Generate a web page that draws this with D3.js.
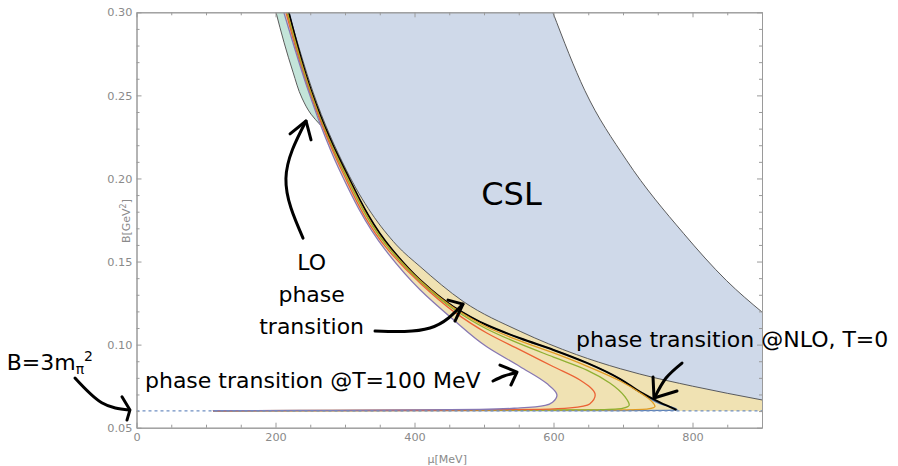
<!DOCTYPE html>
<html>
<head>
<meta charset="utf-8">
<script src="https://cdn.jsdelivr.net/npm/d3@7"></script>
<style>
  body { margin: 0; background: #fff; }
</style>
</head>
<body>
<div id="chart"></div>
<script>
// axis ticks
const muTicks = [0, 200, 400, 600, 800];
const bTicks = [0.05, 0.10, 0.15, 0.20, 0.25, 0.30];

// B = 3 m_pi^2 line
const pionB = 0.0601;

// CSL region boundaries [mu, B]
const cslLower = [[219, 0.300], [254, 0.252], [302, 0.205], [374, 0.160], [408, 0.147], [470, 0.126],
    [552, 0.108], [633, 0.0940], [696, 0.0855], [724, 0.0823], [800, 0.0750], [900, 0.0667]];
const cslUpper = [[599, 0.300], [645, 0.253], [705, 0.211], [787, 0.167], [849, 0.1385], [900, 0.1196]];

// LO phase transition (gray, upper left)
const loLine = [[200.7, 0.300], [212.2, 0.282], [225.2, 0.264], [238.1, 0.2484], [251.1, 0.2387], [265, 0.232]];

// phase transition curves at several temperatures
const tPurple = [[212, 0.300], [247, 0.253], [265, 0.232], [291, 0.206], [358, 0.157], [408, 0.133],
    [456, 0.115], [504, 0.0987], [552, 0.0867], [590, 0.0767], [605, 0.0697], [599, 0.0655],
    [588, 0.0634], [552, 0.0619], [494, 0.0610], [408, 0.0607], [235, 0.0604], [110, 0.0602]];
const tRed = [[215, 0.300], [248, 0.253], [267, 0.232], [294, 0.206], [362, 0.157], [408, 0.137],
    [456, 0.120], [504, 0.107], [552, 0.0968], [600, 0.0867], [638, 0.0787], [660, 0.0697],
    [652, 0.0643], [624, 0.0619], [581, 0.0610], [408, 0.0605], [110, 0.0602]];
const tGreen = [[216.5, 0.300], [249, 0.253], [268, 0.232], [296, 0.206], [365, 0.157], [408, 0.138],
    [456, 0.1214], [504, 0.1094], [552, 0.1004], [600, 0.0925], [648, 0.0847], [681, 0.0769],
    [703, 0.0685], [709, 0.0637], [699, 0.0616], [667, 0.0608], [408, 0.0604], [110, 0.0602]];
const tOrange = [[217, 0.300], [250, 0.253], [268.5, 0.232], [297, 0.206], [366, 0.157], [408, 0.1386],
    [456, 0.1223], [504, 0.1106], [552, 0.1022], [600, 0.0950], [648, 0.0871], [696, 0.0781],
    [724, 0.0712], [741, 0.0660], [746, 0.0628], [736, 0.0613], [696, 0.0607], [408, 0.0603], [110, 0.0602]];
const nloBlack = [[219, 0.300], [251, 0.253], [270, 0.232], [298.6, 0.206], [368, 0.157], [408, 0.1389],
    [456, 0.1228], [504, 0.1118], [552, 0.1038], [600, 0.0968], [648, 0.0890], [696, 0.0793],
    [724.5, 0.0715], [753, 0.0652], [777, 0.0607]];
const tBlue = [[219, 0.300], [251, 0.253], [270, 0.232], [298.6, 0.206], [368, 0.157], [408, 0.1389],
    [456, 0.1228], [504, 0.1118], [552, 0.1038], [600, 0.0968], [648, 0.0890], [696, 0.0793],
    [724.5, 0.0712], [753, 0.0645], [778, 0.0607], [765, 0.06045], [700, 0.0603], [408, 0.06025], [110, 0.0602]];

// annotation arrows [mu, B]
const arrowLOShaft = [[239.6, 0.1641], [215, 0.2000], [243.9, 0.2346]];
const arrowLOHead = [[220.9, 0.2268], [243.9, 0.2346], [251.1, 0.2232]];
const arrowTrShaft = [[343.2, 0.1082], [422.3, 0.1100], [469.8, 0.1244]];
const arrowTrHead = [[448.2, 0.1268], [469.8, 0.1244], [458.3, 0.1142]];
const arrowT100Shaft = [[513.0, 0.0781], [528.8, 0.0811], [544.6, 0.0829]];
const arrowT100Head = [[523.0, 0.0877], [547.5, 0.0835], [538.8, 0.0757]];
const arrowNloShaft = [[784.9, 0.0889], [761.9, 0.0799], [746.0, 0.0685]];
const arrowNloHead = [[743.2, 0.0805], [744.6, 0.0679], [777.7, 0.0721]];
const arrowPionShaft = [[-88.5, 0.0799], [-50, 0.0650], [-10.8, 0.0607]];
const arrowPionHead = [[-20.9, 0.0686], [-9.4, 0.0607], [-13.7, 0.0546]];

const width = 898;
const height = 466;
const margin = { top: 12.3, right: 136, bottom: 38.3, left: 136.5 };

const x = d3.scaleLinear().domain([0, 900]).range([margin.left, width - margin.right]);
const y = d3.scaleLinear().domain([0.05, 0.30]).range([height - margin.bottom, margin.top]);

// boundaries are monotone in mu, the transition curves are monotone in B
const smoothX = d3.line().x(d => x(d[0])).y(d => y(d[1])).curve(d3.curveMonotoneX);
const smoothY = d3.line().x(d => x(d[0])).y(d => y(d[1])).curve(d3.curveMonotoneY);
const straight = d3.line().x(d => x(d[0])).y(d => y(d[1]));
const joinPath = (...parts) => parts.map((p, i) => i === 0 ? p : "L" + p.slice(1)).join("") + "Z";

const svg = d3.select("#chart").append("svg")
    .attr("width", width)
    .attr("height", height)
    .style("font-family", "'DejaVu Sans', sans-serif");

svg.append("clipPath").attr("id", "plot-clip")
    .append("rect")
    .attr("x", x(0)).attr("y", y(0.30))
    .attr("width", x(900) - x(0)).attr("height", y(0.05) - y(0.30));

const plot = svg.append("g").attr("clip-path", "url(#plot-clip)");

// yellow band outside the T=100 curve
plot.append("path")
    .attr("d", joinPath(smoothY(tPurple),
        straight([[tPurple[tPurple.length - 1][0], pionB], [900, pionB]]),
        smoothX([...cslLower].reverse())))
    .attr("fill", "#f0e2b3");

// teal sliver between LO line and the curves
plot.append("path")
    .attr("d", joinPath(smoothY(loLine), smoothY(tPurple.slice(0, 3).reverse())))
    .attr("fill", "#c3e4d9");

// CSL region
plot.append("path")
    .attr("d", joinPath(smoothX(cslLower), smoothX([...cslUpper].reverse())))
    .attr("fill", "#cfd9e9");
[cslLower, cslUpper].forEach(c => plot.append("path")
    .attr("d", smoothX(c))
    .attr("fill", "none")
    .attr("stroke", "#4a4a4a")
    .attr("stroke-width", 0.9));

plot.append("path")
    .attr("d", smoothY(loLine))
    .attr("fill", "none")
    .attr("stroke", "#5a5a5a")
    .attr("stroke-width", 1);

const curves = [
    { pts: tBlue, color: "#5e81b5", w: 1.3 },
    { pts: nloBlack, color: "#000000", w: 2 },
    { pts: tOrange, color: "#e19c24", w: 1.3 },
    { pts: tGreen, color: "#8fb032", w: 1.3 },
    { pts: tRed, color: "#eb6235", w: 1.3 },
    { pts: tPurple, color: "#8778b3", w: 1.3 }
];
plot.append("g").selectAll("path")
    .data(curves)
    .join("path")
    .attr("d", d => smoothY(d.pts))
    .attr("fill", "none")
    .attr("stroke", d => d.color)
    .attr("stroke-width", d => d.w)
    .attr("stroke-linejoin", "round");

plot.append("path")
    .attr("d", straight([[0, pionB], [900, pionB]]))
    .attr("stroke", "#6f8fc2")
    .attr("stroke-width", 1.2)
    .attr("stroke-dasharray", "3,3");

// frame and ticks
const axisColor = "#9a9a9a";
const labelColor = "#8a8a8a";
const muMinor = d3.range(0, 901, 50).filter(v => v % 200 !== 0);
const bMinor = d3.range(5, 31).map(v => v / 100).filter(v => Math.round(v * 100) % 5 !== 0);

function styleAxis(g) {
    g.select(".domain").attr("stroke", axisColor);
    g.selectAll(".tick line").attr("stroke", axisColor);
    g.selectAll(".tick text")
        .attr("fill", labelColor)
        .style("font-family", "'DejaVu Sans', sans-serif")
        .style("font-size", "11.3px");
}

svg.append("g").attr("transform", `translate(0,${y(0.05)})`)
    .call(d3.axisBottom(x).tickValues(muTicks).tickSize(-5).tickSizeOuter(0).tickPadding(5))
    .call(styleAxis);
svg.append("g").attr("transform", `translate(0,${y(0.05)})`)
    .call(d3.axisBottom(x).tickValues(muMinor).tickSize(-3).tickSizeOuter(0).tickFormat(""))
    .call(styleAxis);
svg.append("g").attr("transform", `translate(0,${y(0.30)})`)
    .call(d3.axisTop(x).tickValues(muTicks).tickSize(-5).tickSizeOuter(0).tickFormat(""))
    .call(styleAxis);
svg.append("g").attr("transform", `translate(0,${y(0.30)})`)
    .call(d3.axisTop(x).tickValues(muMinor).tickSize(-3).tickSizeOuter(0).tickFormat(""))
    .call(styleAxis);
svg.append("g").attr("transform", `translate(${x(0)},0)`)
    .call(d3.axisLeft(y).tickValues(bTicks).tickSize(-5).tickSizeOuter(0).tickPadding(4).tickFormat(d3.format(".2f")))
    .call(styleAxis);
svg.append("g").attr("transform", `translate(${x(0)},0)`)
    .call(d3.axisLeft(y).tickValues(bMinor).tickSize(-3).tickSizeOuter(0).tickFormat(""))
    .call(styleAxis);
svg.append("g").attr("transform", `translate(${x(900)},0)`)
    .call(d3.axisRight(y).tickValues(bTicks).tickSize(-5).tickSizeOuter(0).tickFormat(""))
    .call(styleAxis);
svg.append("g").attr("transform", `translate(${x(900)},0)`)
    .call(d3.axisRight(y).tickValues(bMinor).tickSize(-3).tickSizeOuter(0).tickFormat(""))
    .call(styleAxis);

// axis titles
svg.append("text")
    .attr("x", (x(0) + x(900)) / 2 - 2)
    .attr("y", 463)
    .attr("text-anchor", "middle")
    .attr("fill", labelColor)
    .style("font-size", "11px")
    .text("μ[MeV]");
const yTitle = svg.append("text")
    .attr("transform", `translate(130,${(y(0.05) + y(0.30)) / 2 + 1}) rotate(-90)`)
    .attr("text-anchor", "middle")
    .attr("fill", labelColor)
    .style("font-size", "11px");
yTitle.append("tspan").text("B[GeV");
yTitle.append("tspan").attr("dy", -4).style("font-size", "8px").text("2");
yTitle.append("tspan").attr("dy", 4).text("]");

// annotations
const note = svg.append("g").attr("fill", "#000").style("font-size", "22px");
note.append("text").attr("x", x(496)).attr("y", y(0.1840)).style("font-size", "32px").text("CSL");
note.append("text").attr("x", x(252)).attr("y", y(0.1449)).attr("text-anchor", "middle").text("LO");
note.append("text").attr("x", x(252)).attr("y", y(0.1256)).attr("text-anchor", "middle").text("phase");
note.append("text").attr("x", x(252)).attr("y", y(0.1064)).attr("text-anchor", "middle").text("transition");
note.append("text").attr("x", x(12.2)).attr("y", y(0.0739)).text("phase transition @T=100 MeV");
note.append("text").attr("x", x(632.4)).attr("y", y(0.0986)).text("phase transition @NLO, T=0");
const pionLabel = note.append("text").attr("x", x(-186.8)).attr("y", y(0.0847));
pionLabel.append("tspan").text("B=3m");
pionLabel.append("tspan").attr("dy", 4).style("font-size", "14px").text("π");
pionLabel.append("tspan").attr("dy", -13).style("font-size", "14px").text("2");

const arrows = [
    [arrowLOShaft, arrowLOHead], [arrowTrShaft, arrowTrHead], [arrowT100Shaft, arrowT100Head],
    [arrowNloShaft, arrowNloHead], [arrowPionShaft, arrowPionHead]
];
const arrowG = svg.append("g")
    .attr("fill", "none")
    .attr("stroke", "#000")
    .attr("stroke-width", 3)
    .attr("stroke-linecap", "round")
    .attr("stroke-linejoin", "round");
arrows.forEach(([shaft, head]) => {
    arrowG.append("path").attr("d", d3.line().x(d => x(d[0])).y(d => y(d[1])).curve(d3.curveNatural)(shaft));
    arrowG.append("path").attr("d", straight(head));
});
</script>
</body>
</html>
